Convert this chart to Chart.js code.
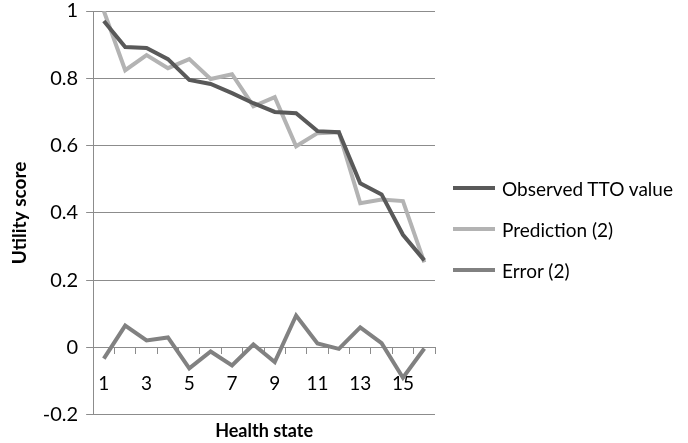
<!DOCTYPE html>
<html>
<head>
<meta charset="utf-8">
<script src="https://cdn.jsdelivr.net/npm/chart.js@4"></script>
<style>
  html, body { margin: 0; padding: 0; background: #fff; }
  #wrap { position: relative; width: 688px; height: 443px; }
  #legend { position: absolute; left: 453px; top: 0; font-family: Lato, sans-serif; font-size: 19px; color: #000; }
  .item { position: absolute; left: 0; white-space: nowrap; display: flex; align-items: center; height: 24px; }
  .swatch { width: 42px; height: 4px; margin-right: 7px; }
</style>
</head>
<body>
<div id="wrap">
  <canvas id="chart"></canvas>
  <div id="legend"></div>
</div>
<script>
const healthStates = ["1", "2", "3", "4", "5", "6", "7", "8", "9", "10", "11", "12", "13", "14", "15", "16"];
const observed = [0.97, 0.893, 0.89, 0.857, 0.795, 0.783, 0.756, 0.726, 0.70, 0.696, 0.643, 0.64, 0.488, 0.455, 0.335, 0.259];
const prediction = [1.0, 0.824, 0.869, 0.83, 0.857, 0.798, 0.812, 0.717, 0.744, 0.598, 0.637, 0.64, 0.429, 0.44, 0.435, 0.253];
const error = [-0.033, 0.065, 0.021, 0.03, -0.062, -0.012, -0.053, 0.009, -0.043, 0.095, 0.012, -0.004, 0.06, 0.013, -0.09, -0.003];
const yTicks = [-0.2, 0, 0.2, 0.4, 0.6, 0.8, 1];

const FONT = "Lato";
const gridColor = "#8c8c8c";

const ctx = document.getElementById("chart").getContext("2d");

const chart = new Chart(ctx, {
  type: "line",
  data: {
    labels: healthStates,
    datasets: [
      { label: "Observed TTO value", data: observed, borderColor: "#595959", backgroundColor: "#595959" },
      { label: "Prediction (2)", data: prediction, borderColor: "#b3b3b3", backgroundColor: "#b3b3b3" },
      { label: "Error (2)", data: error, borderColor: "#818181", backgroundColor: "#818181" },
    ],
  },
  options: {
    responsive: true,
    maintainAspectRatio: false,
    animation: false,
    layout: { padding: { top: 11, right: 253, bottom: 4, left: 8 } },
    elements: {
      line: { borderWidth: 4, tension: 0 },
      point: { radius: 0 },
    },
    plugins: {
      legend: { display: false },
      tooltip: { enabled: false },
    },
    scales: {
      x: {
        type: "category",
        position: { y: 0 },
        offset: true,
        grid: { offset: true, drawOnChartArea: false, drawTicks: true, tickLength: 6, color: gridColor },
        border: { color: gridColor, width: 1 },
        ticks: {
          autoSkip: false,
          maxRotation: 0,
          padding: 19,
          color: "#000",
          font: { family: FONT, size: 19 },
          callback: (v, i) => (i % 2 === 0 ? healthStates[i] : ""),
        },
      },
      x2: {
        type: "category",
        position: "bottom",
        grid: { display: false },
        border: { display: false },
        ticks: { display: false },
        title: { display: true, text: "Health state", color: "#000", font: { family: FONT, size: 18, weight: "bold", lineHeight: 0.9 }, padding: { top: 0, bottom: 0 } },
      },
      y: {
        min: -0.2,
        max: 1,
        afterBuildTicks: (axis) => { axis.ticks = yTicks.map((v) => ({ value: v })); },
        afterFit: (axis) => { axis.paddingTop = 0; axis.paddingBottom = 0; },
        grid: { color: gridColor, tickLength: 7 },
        border: { color: gridColor },
        ticks: {
          padding: 8,
          color: "#000",
          font: { family: FONT, size: 20 },
          callback: (v) => String(Math.round(v * 10) / 10),
        },
        title: { display: true, text: "Utility score", color: "#000", font: { family: FONT, size: 19, weight: "bold" }, padding: { top: 0, bottom: 4 } },
      },
    },
  },
});

// legend drawn as html next to the plot
const legendTops = [176, 217, 258];
const legend = document.getElementById("legend");
chart.data.datasets.forEach((ds, i) => {
  legend.innerHTML += `
    <div class="item" style="top:${legendTops[i]}px">
      <span class="swatch" style="background:${ds.borderColor}"></span>${ds.label}
    </div>
  `;
});
</script>
</body>
</html>
